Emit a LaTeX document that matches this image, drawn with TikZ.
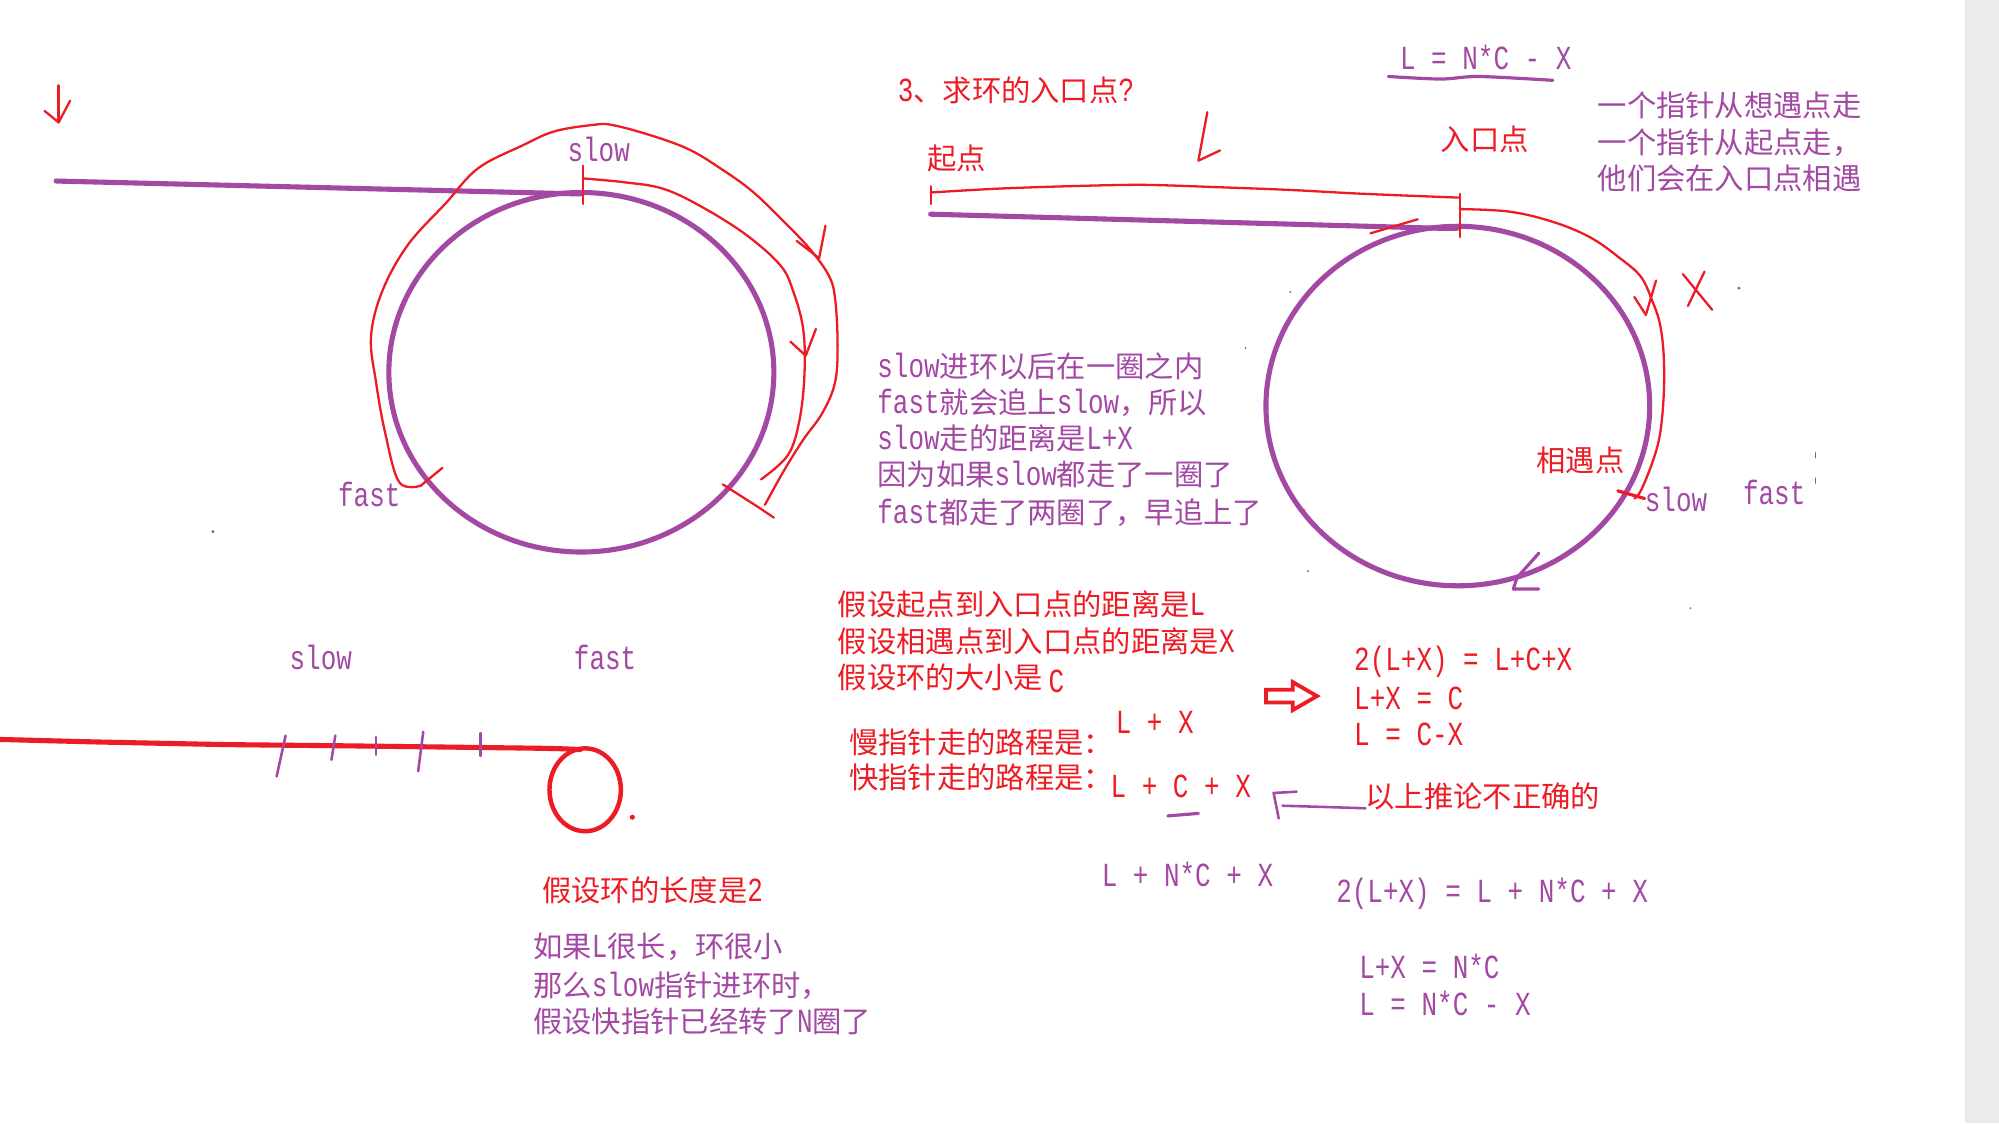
\documentclass[tikz,border=0pt]{standalone}
\usepackage{fontspec}
\setmainfont[Scale=1.15,FakeStretch=0.77]{Liberation Mono}
\newfontfamily\cjk{Noto Sans CJK SC}
\newcommand\zh[1]{{\cjk #1}}
\definecolor{pp}{HTML}{A349A4}
\definecolor{rd}{HTML}{ED1C24}
\definecolor{stripc}{HTML}{EBEBEB}
\begin{document}
\begin{tikzpicture}[x=1pt,y=-1pt,
  txt/.style={anchor=west,inner sep=0pt,font=\fontsize{23}{27}\selectfont},
  ptxt/.style={txt,text=pp},
  rtxt/.style={txt,text=rd},
  pthick/.style={draw=pp,line width=4pt,line cap=round,line join=round},
  pthin/.style={draw=pp,line width=2pt,line cap=round,line join=round},
  rthin/.style={draw=rd,line width=1.8pt,line cap=round,line join=round},
  rthick/.style={draw=rd,line width=4pt,line cap=round,line join=round},
  speck/.style={inner sep=0pt,minimum size=2.5pt,circle}]
\useasboundingbox (0,0) rectangle (1568,881);
\fill[white] (0,0) rectangle (1568,881);
\fill[stripc] (1541,0) rectangle (1568,881);

% ---------- left top figure ----------
\draw[rthin] (46,67) -- (46,96);
\draw[rthin] (35,87) -- (46,96) -- (55,79);
\draw[pthick] (44,142) -- (450,152) -- (456,152);
\draw[pthick] (456,292) ellipse [x radius=151pt, y radius=141pt];
\draw[rthin] (457.5,130) -- (457.5,160);
\draw[rthin] plot[smooth,tension=0.6] coordinates {(458,140) (490,143) (520,148) (550,162) (585,184) (612,208) (622,228) (630,258) (631,294) (627,330) (618,357) (597,376)};
\draw[rthin] (620,268) -- (632,279) -- (640,258);
\draw[rthin] plot[smooth,tension=0.6] coordinates {(330,381) (313,378) (302,339) (295,300) (291,264) (300,228) (320,192) (350,159) (375,132) (410,114) (435,103) (465,98) (480,98) (510,106) (540,117) (565,132) (590,150) (615,174) (635,195) (650,216) (655,234) (657,270) (655,300) (645,324) (630,345) (615,369) (600,396)};
\draw[rthin] (330,381) -- (347,367);
\draw[rthin] (647.5,177) -- (642.5,202.5);
\draw[rthin] (625,189) -- (642.5,202.5);
\draw[rthin] (567,380) -- (592,396) -- (607,406);
\node[ptxt] (slowA) at (445,117) {slow};
\node[ptxt] (fastA) at (265,388) {fast};
\node[speck,fill=pp] (dotA) at (167,417) {};

% ---------- middle text ----------
\node[rtxt] (title) at (704,71) {3\zh{、求环的入口点}?};
\node[ptxt] (m1) at (688,287) {slow\zh{进环以后在一圈之内}};
\node[ptxt] (m2) at (688,316) {fast\zh{就会追上}slow\zh{，所以}};
\node[ptxt] (m3) at (688,344) {slow\zh{走的距离是}L+X};
\node[ptxt] (m4) at (688,372) {\zh{因为如果}slow\zh{都走了一圈了}};
\node[ptxt] (m5) at (688,402) {fast\zh{都走了两圈了，早追上了}};

% ---------- right top figure ----------
\node[ptxt] (eqTop) at (1098,45) {L = N*C - X};
\draw[pthin,line width=2.5pt] plot[smooth] coordinates {(1089,60) (1130,62) (1160,60) (1218,63)};
\draw[rthin] (947,88) -- (940,126) -- (957,118);
\node[rtxt] (qidian) at (727,124) {\zh{起点}};
\node[rtxt] (rukou) at (1130,109) {\zh{入口点}};
\node[ptxt] (r1) at (1253,83) {\zh{一个指针从想遇点走}};
\node[ptxt] (r2) at (1253,112) {\zh{一个指针从起点走，}};
\node[ptxt] (r3) at (1253,140) {\zh{他们会在入口点相遇}};
\draw[rthin] (730,146) -- (730,160);
\draw[rthin] plot[smooth,tension=0.5] coordinates {(730,151) (782,148) (840,146) (897,145) (960,147) (1012,149) (1069,152) (1144,155)};
\draw[pthick] (730,168) -- (1127,179) -- (1143,179);
\draw[pthick] (1143.5,318.5) ellipse [x radius=150.5pt, y radius=141pt];
\draw[rthin] (1145,152) -- (1145,186);
\draw[rthin] (1075,183) -- (1112,172);
\draw[rthin] plot[smooth,tension=0.6] coordinates {(1145,164) (1184,166) (1218,174) (1247,186) (1270,202) (1287,217) (1296,236) (1302,254) (1305,279) (1305,310) (1302,341) (1296,363) (1287,385) (1282,391)};
\draw[rthin] (1299,220) -- (1291,247);
\draw[rthin] (1282,233) -- (1291,247);
\draw[rthin] (1320,215) -- (1343,243);
\draw[rthin] (1337,213) -- (1324,240);
\draw[rthin,line width=2.5pt] (1269,385) -- (1290,391);
\node[rtxt] (xiangyu) at (1205,361) {\zh{相遇点}};
\node[ptxt] (slowB) at (1290,392) {slow};
\node[ptxt] (fastB) at (1367,386) {fast};
\draw[pthin,line width=2.5pt] (1207,434) -- (1190,453) -- (1187,462) -- (1207,462);
\node[speck,fill=pp] (dotB) at (1364,226) {};
\draw[pthin,line width=1pt] (1424,355) -- (1424,359);
\draw[pthin,line width=1pt] (1424,375) -- (1424,379);
\node[speck,fill=pp,minimum size=1.5pt] (dotC) at (1326,477) {};
\node[speck,fill=rd,minimum size=1.5pt] (dotD) at (977,273) {};
\node[speck,fill=rd,minimum size=1.5pt] (dotE) at (1012,229) {};
\node[speck,fill=rd,minimum size=1.5pt] (dotF) at (1023,400) {};
\node[speck,fill=rd,minimum size=1.5pt] (dotG) at (1026,448) {};

% ---------- assumptions ----------
\node[rtxt] (a1) at (657,474) {\zh{假设起点到入口点的距离是}L};
\node[rtxt] (a2) at (657,503) {\zh{假设相遇点到入口点的距离是}X};
\node[rtxt] (a3) at (657,532) {\zh{假设环的大小是}\,\raisebox{-3pt}{C}};
\node[rtxt] (s1) at (666,582) {\zh{慢指针走的路程是：}};
\node[rtxt] (s1v) at (875,567) {L + X};
\node[rtxt] (s2) at (666,610) {\zh{快指针走的路程是：}};
\node[rtxt] (s2v) at (871,617) {L + C + X};
\draw[pthin,line width=2.5pt] (916,640) -- (940,638);
\draw[draw=rd,fill=white,line width=3pt,line join=miter]
  (993,541) -- (1014,541) -- (1014,535) -- (1033,546) -- (1014,557) -- (1014,551) -- (993,551) -- cycle;
\node[rtxt] (e1) at (1062,519) {2(L+X) = L+C+X};
\node[rtxt] (e2) at (1062,548) {L+X = C};
\node[rtxt] (e3) at (1062,576) {L = C-X};
\node[rtxt] (wrong) at (1071,625) {\zh{以上推论不正确的}};
\draw[pthin] (1071,634) -- (1040,633) -- (1006,632);
\draw[pthin] (1017,621) -- (999,622) -- (1003,642);
\node[ptxt] (f1) at (864,686) {L + N*C + X};
\node[ptxt] (f2) at (1048,701) {2(L+X) = L + N*C + X};
\node[ptxt] (f3) at (1066,758) {L+X = N*C};
\node[ptxt] (f4) at (1066,787) {L = N*C - X};

% ---------- bottom left figure ----------
\node[ptxt] (slowC) at (227,516) {slow};
\node[ptxt] (fastC) at (450,516) {fast};
\draw[rthick] plot[smooth,tension=0.3] coordinates {(0,580) (77,582) (176,584) (270,585) (428,587) (455,588)};
\draw[draw=rd,line width=3.5pt] (459,619.5) ellipse [x radius=28pt, y radius=32.5pt];
\node[speck,fill=rd,minimum size=4pt] (dotH) at (496,641) {};
\draw[pthin] (224,577) -- (217,609);
\draw[pthin] (263,577) -- (260,596);
\draw[pthin] (295,578) -- (295,592);
\draw[pthin] (332,574) -- (328,605);
\draw[pthin] (377,575) -- (377,593);
\node[rtxt] (len2) at (425,698) {\zh{假设环的长度是}2};
\node[ptxt] (b1) at (418,743) {\zh{如果}L\zh{很长，环很小}};
\node[ptxt] (b2) at (418,773) {\zh{那么}slow\zh{指针进环时，}};
\node[ptxt] (b3) at (418,801) {\zh{假设快指针已经转了}N\zh{圈了}};
\end{tikzpicture}
\end{document}
